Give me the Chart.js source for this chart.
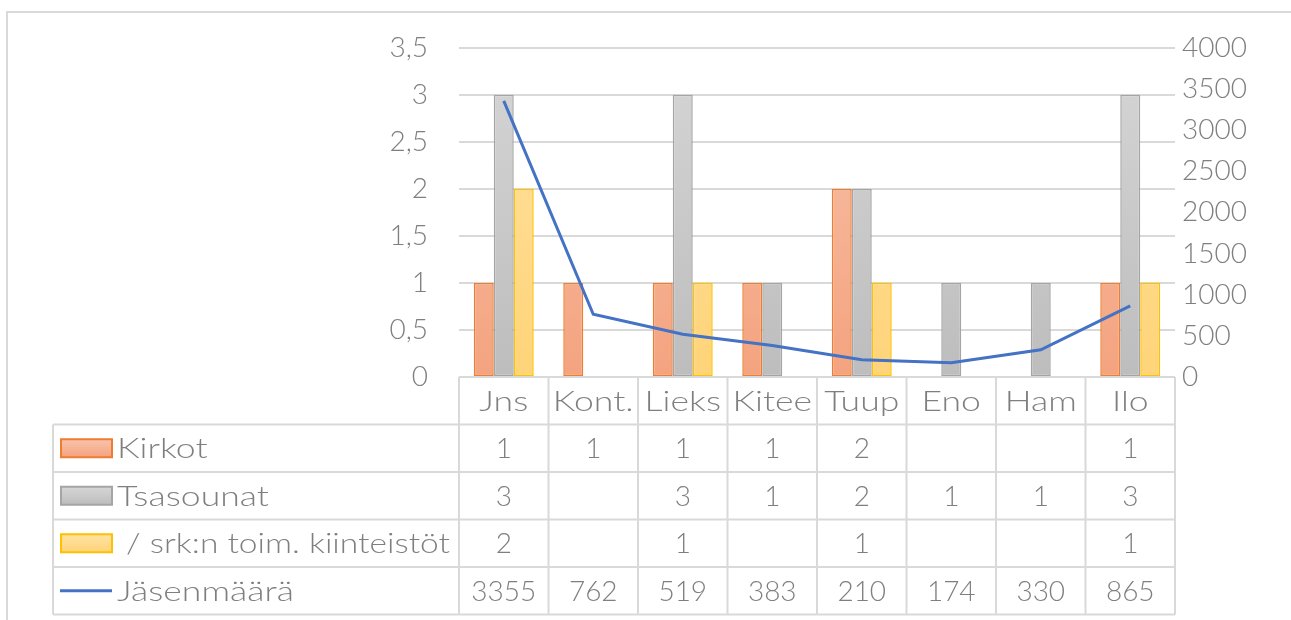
<!DOCTYPE html>
<html>
<head>
<meta charset="utf-8">
<script src="https://cdn.jsdelivr.net/npm/chart.js@4.4.0/dist/chart.umd.min.js"></script>
<style>
  html, body { margin: 0; padding: 0; background: #fff; overflow: hidden; }
  #wrap { width: 1291px; height: 620px; }
  canvas { display: block; }
</style>
</head>
<body>
<div id="wrap"><canvas id="myChart" width="1291" height="620"></canvas></div>
<script>
  // data
  const categories = ["Jns", "Kont.", "Lieks", "Kitee", "Tuup", "Eno", "Ham", "Ilo"];
  const kirkot = [1, 1, 1, 1, 2, null, null, 1];
  const tsasounat = [3, null, 3, 1, 2, 1, 1, 3];
  const kiinteistot = [2, null, 1, null, 1, null, null, 1];
  const jasenmaara = [3355, 762, 519, 383, 210, 174, 330, 865];

  const seriesNames = ["Kirkot", "Tsasounat", " / srk:n toim. kiinteistöt", "Jäsenmäärä"];

  const FONT = "Lato, 'Open Sans', sans-serif";
  const TXT = "#7f7f7f";
  const GRID = "#d9d9d9";
  // the original face (Century Gothic) is much wider than Lato for letters
  const WIDE = 1.27;

  function grad(top, bottom) {
    return function (ctx) {
      const area = ctx.chart.chartArea;
      if (!area) return bottom;
      const g = ctx.chart.ctx.createLinearGradient(0, area.top, 0, area.bottom);
      g.addColorStop(0, top);
      g.addColorStop(1, bottom);
      return g;
    };
  }

  const swatchColors = [["#f8c3ab", "#f4a37f"], ["#d6d6d6", "#bdbdbd"], ["#ffe2a3", "#ffd479"]];
  const barStyles = [
    { fill: grad(...swatchColors[0]), border: "#ed7d31" },
    { fill: grad(...swatchColors[1]), border: "#a5a5a5" },
    { fill: grad(...swatchColors[2]), border: "#ffc000" },
  ];

  function wideText(c, txt, x, y, align, maxW) {
    const w = c.measureText(txt).width;
    const k = Math.min(WIDE, maxW / w);
    c.save();
    c.translate(x, y);
    c.scale(k, 1);
    c.textAlign = align;
    c.fillText(txt, 0, 0);
    c.restore();
  }

  // data table under the plot, drawn from the same arrays
  const tablePlugin = {
    id: "dataTable",
    afterDraw(chart) {
      const c = chart.ctx;
      const x = chart.scales.x;
      const area = chart.chartArea;
      const n = categories.length;
      const colW = (area.right - area.left) / n;
      const rowH = 47.5;
      const top = area.bottom;
      const tableLeft = 53;
      const rows = [kirkot, tsasounat, kiinteistot, jasenmaara];

      c.save();
      c.strokeStyle = GRID;
      c.lineWidth = 2;
      // outer chart border: only the top and left edges are in view
      c.beginPath();
      c.moveTo(7, 640);
      c.lineTo(7, 12);
      c.lineTo(1291, 12);
      c.stroke();

      c.beginPath();
      c.moveTo(area.left, top);
      c.lineTo(area.right, top);
      for (let r = 1; r <= 5; r++) {
        const y = top + r * rowH;
        c.moveTo(tableLeft, y);
        c.lineTo(area.right, y);
      }
      for (let i = 0; i <= n; i++) {
        const xx = area.left + i * colW;
        c.moveTo(xx, top);
        c.lineTo(xx, top + 5 * rowH);
      }
      c.moveTo(tableLeft, top + rowH);
      c.lineTo(tableLeft, top + 5 * rowH);
      c.stroke();

      c.fillStyle = TXT;
      c.font = "300 28px " + FONT;
      c.textAlign = "center";
      c.textBaseline = "middle";
      categories.forEach((lab, i) => {
        wideText(c, lab, x.getPixelForValue(i), top + rowH / 2 + 1, "center", colW - 6);
      });
      rows.forEach((vals, r) => {
        const yc = top + (r + 1.5) * rowH;
        vals.forEach((v, i) => {
          if (v !== null) c.fillText(String(v), x.getPixelForValue(i), yc + 1);
        });
      });

      // legend keys
      rows.forEach((vals, r) => {
        const yc = top + (r + 1.5) * rowH;
        if (r < 3) {
          const g = c.createLinearGradient(0, yc - 9, 0, yc + 9);
          g.addColorStop(0, swatchColors[r][0]);
          g.addColorStop(1, swatchColors[r][1]);
          c.fillStyle = g;
          c.fillRect(61, yc - 9, 51, 18);
          c.strokeStyle = barStyles[r].border;
          c.lineWidth = 2;
          c.strokeRect(61, yc - 9, 51, 18);
        } else {
          c.strokeStyle = "#4472c4";
          c.lineWidth = 3;
          c.beginPath();
          c.moveTo(60, yc);
          c.lineTo(112, yc);
          c.stroke();
        }
        c.fillStyle = TXT;
        wideText(c, seriesNames[r], 117, yc + 1, "left", area.left - 126);
      });
      c.restore();
    },
  };

  const barDataset = (label, data, s) => ({
    type: "bar",
    label: label,
    data: data,
    yAxisID: "y",
    backgroundColor: s.fill,
    borderColor: s.border,
    borderWidth: 1.5,
    borderSkipped: false,
    barPercentage: 1,
    categoryPercentage: 0.67,
    order: 1,
  });

  const config = {
    data: {
      labels: categories,
      datasets: [
        {
          type: "line",
          label: seriesNames[3],
          data: jasenmaara,
          yAxisID: "y1",
          borderColor: "#4472c4",
          borderWidth: 3,
          pointRadius: 0,
          tension: 0,
          order: 0,
        },
        barDataset(seriesNames[0], kirkot, barStyles[0]),
        barDataset(seriesNames[1], tsasounat, barStyles[1]),
        barDataset(seriesNames[2], kiinteistot, barStyles[2]),
      ],
    },
    options: {
      responsive: false,
      animation: false,
      layout: { padding: { top: 45, bottom: 243, left: 0, right: 0 } },
      plugins: {
        legend: { display: false },
        tooltip: { enabled: false },
      },
      scales: {
        x: { display: false, offset: true },
        y: {
          position: "left",
          min: 0,
          max: 3.5,
          afterFit: (s) => { s.width = 459; },
          border: { display: false },
          grid: { color: GRID, lineWidth: 2, drawTicks: false },
          ticks: {
            stepSize: 0.5,
            padding: 31,
            color: TXT,
            font: { family: FONT, size: 28, weight: 300 },
            callback: (v) => String(v).replace(".", ","),
          },
        },
        y1: {
          position: "right",
          min: 0,
          max: 4000,
          afterFit: (s) => { s.width = 116; },
          border: { display: false },
          grid: { drawOnChartArea: false, drawTicks: false },
          ticks: {
            stepSize: 500,
            padding: 7,
            color: TXT,
            font: { family: FONT, size: 28, weight: 300 },
            callback: (v) => String(v),
          },
        },
      },
    },
    plugins: [tablePlugin],
  };

  const myChart = new Chart(document.getElementById("myChart"), config);
</script>
</body>
</html>
